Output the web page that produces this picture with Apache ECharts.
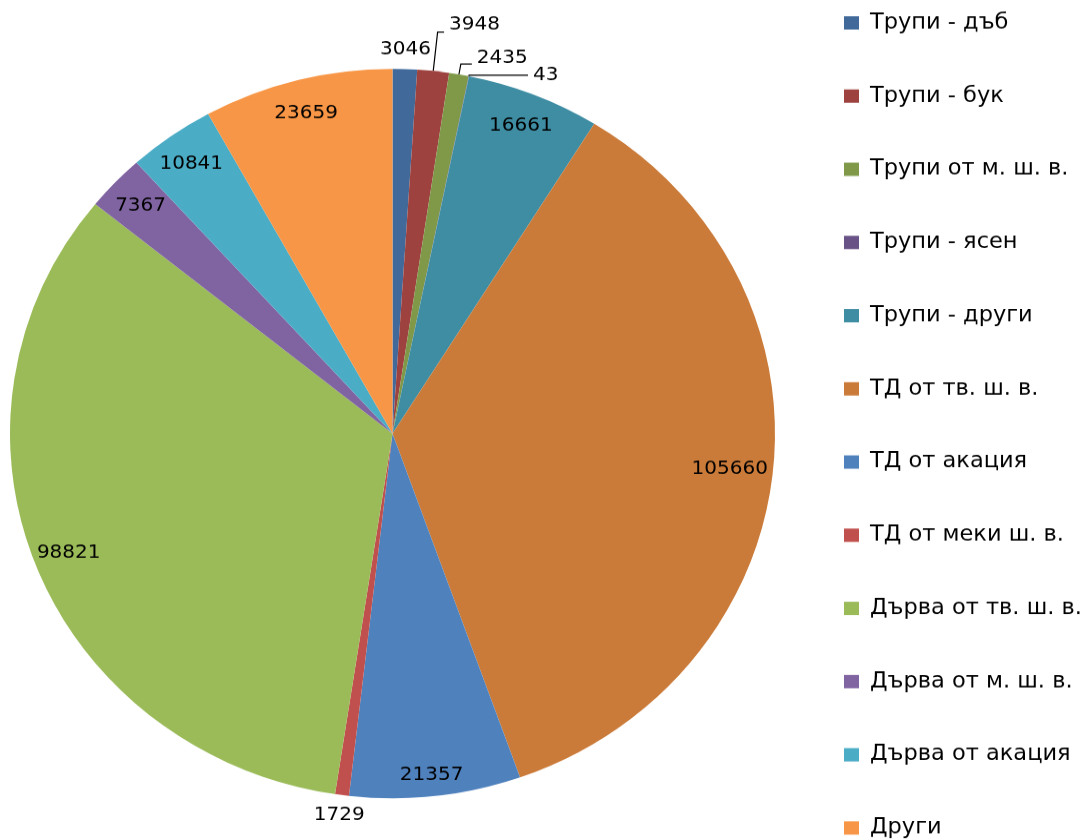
<!DOCTYPE html>
<html>
<head>
<meta charset="utf-8">
<script src="https://cdn.jsdelivr.net/npm/echarts@6/dist/echarts.min.js"></script>
<style>
  html, body { margin: 0; padding: 0; background: #fff; overflow: hidden; }
  /* the Excel pie is slightly squashed vertically, so the whole chart is scaled */
  #chart { width: 1087px; height: 900px; transform: scaleY(0.95346); transform-origin: 0 0; }
</style>
</head>
<body>
<div id="chart"></div>
<script>
const categories = [
  'Трупи - дъб', 'Трупи - бук', 'Трупи от м. ш. в.', 'Трупи - ясен', 'Трупи - други',
  'ТД от тв. ш. в.', 'ТД от акация', 'ТД от меки ш. в.', 'Дърва от тв. ш. в.',
  'Дърва от м. ш. в.', 'Дърва от акация', 'Други'
];
const volumes = [3046, 3948, 2435, 43, 16661, 105660, 21357, 1729, 98821, 7367, 10841, 23659];
const palette = [
  '#416A9B', '#9D423F', '#7F9949', '#695285', '#3E8DA3', '#CB7B39',
  '#4F81BD', '#C0504D', '#9BBB59', '#8064A2', '#4BACC6', '#F79646'
];

const chart = echarts.init(document.getElementById('chart'));
const center = [392.5, 454.7];
const R = 382.5;
const font = 'DejaVu Sans';
const lineStyle = { color: '#000', width: 1.2 };

// labels with leader lines (outside the pie); the trailing empty line lifts the text above the line
const leaders = {
  1: { labelLine: { show: true, length: 41, length2: 6.5, lineStyle: lineStyle },
       label: { position: 'outside', formatter: '{c}\n', lineHeight: 14.7 } },
  2: { labelLine: { show: true, length: 11, length2: 11, lineStyle: lineStyle },
       label: { position: 'outside', formatter: '{c}\n', lineHeight: 13.6 } },
  3: { labelLine: { show: true, length: 1, length2: 59, lineStyle: lineStyle },
       label: { position: 'outside' } }
};
// labels just outside the pie with no line
const outerOnly = [0, 7];

const mainData = categories.map((name, i) => ({
  name: name, value: volumes[i], itemStyle: { color: palette[i] }
}));

const labelData = categories.map((name, i) => {
  const item = { name: name, value: volumes[i] };
  if (leaders[i]) {
    item.label = leaders[i].label;
    item.labelLine = leaders[i].labelLine;
  } else if (outerOnly.indexOf(i) >= 0) {
    item.label = { show: false };
  } else if (i === 5) {
    item.label = { padding: [0, 16, 0, 0] };
  } else if (i === 6) {
    item.label = { formatter: '\n{c}', lineHeight: 26 };
  }
  return item;
});

const outerData = categories.map((name, i) => ({
  name: name, value: volumes[i],
  label: { show: outerOnly.indexOf(i) >= 0 }
}));

const labelText = { color: '#000', fontFamily: font, fontSize: 20, formatter: '{c}' };

chart.setOption({
  animation: false,
  legend: {
    orient: 'vertical',
    left: 844,
    top: 12,
    padding: 0,
    icon: 'rect',
    itemWidth: 15,
    itemHeight: 14,
    itemGap: 52.76,
    data: categories,
    textStyle: { color: '#000', fontFamily: font, fontSize: 22.5, lineHeight: 24, padding: [0, 0, 0, 6] }
  },
  series: [
    {
      type: 'pie',
      center: center,
      radius: [0, R],
      startAngle: 90,
      label: { show: false },
      labelLine: { show: false },
      data: mainData
    },
    {
      // transparent ring, only carries the value labels
      type: 'pie',
      silent: true,
      center: center,
      radius: [R * 0.8, R],
      startAngle: 90,
      avoidLabelOverlap: false,
      labelLayout: { hideOverlap: false },
      itemStyle: { color: 'rgba(0,0,0,0)' },
      label: Object.assign({ show: true, position: 'inside' }, labelText),
      labelLine: { show: false, lineStyle: lineStyle, minTurnAngle: 0 },
      data: labelData
    },
    {
      type: 'pie',
      silent: true,
      center: center,
      radius: [R + 1, R + 35],
      startAngle: 90,
      avoidLabelOverlap: false,
      labelLayout: { hideOverlap: false },
      itemStyle: { color: 'rgba(0,0,0,0)' },
      label: Object.assign({ position: 'inside' }, labelText),
      labelLine: { show: false },
      data: outerData
    }
  ]
});

window.onresize = function () {
  chart.resize();
};
</script>
</body>
</html>
